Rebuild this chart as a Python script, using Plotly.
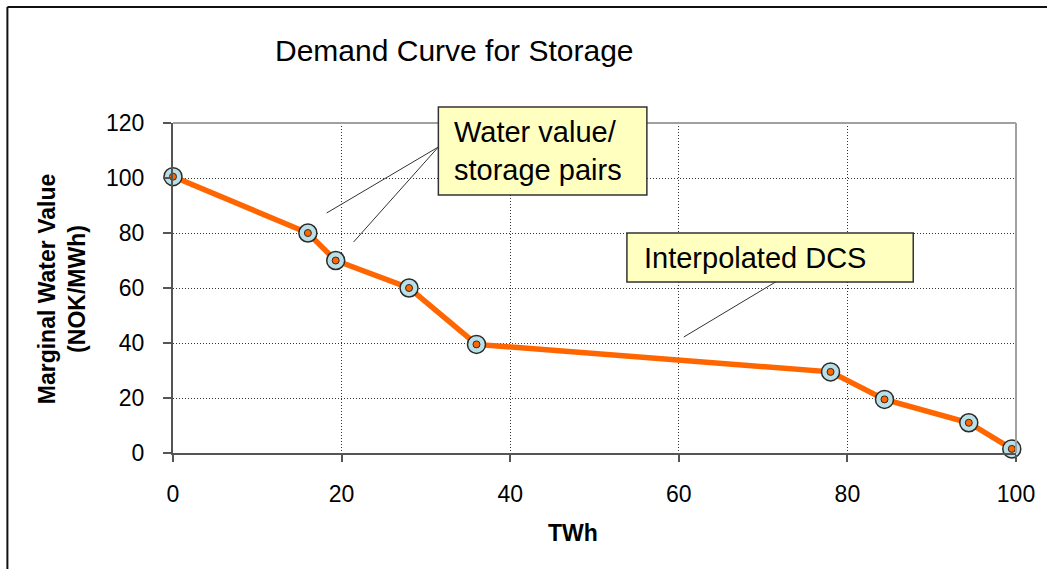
import plotly.graph_objects as go

# Demand curve for storage: water value / storage pairs
twh = [0, 16, 19.3, 28, 36, 78, 84.4, 94.4, 99.5]
water_value = [100.5, 80, 70, 60, 39.5, 29.5, 19.5, 11, 1.5]
x_ticks = [0, 20, 40, 60, 80, 100]
y_ticks = [0, 20, 40, 60, 80, 100, 120]

W, H = 1047, 569
L, R, T, B = 173, 1018, 123, 453  # plot area edges in page pixels

FONT = "Liberation Sans, Arial, sans-serif"


def px(x):
    return (x - L) / (R - L)


def py(y):
    return (B - y) / (B - T)


fig = go.Figure()

fig.add_trace(go.Scatter(
    x=twh, y=water_value, mode="lines",
    line=dict(color="#FF6600", width=5.5),
    cliponaxis=False, hoverinfo="skip", showlegend=False,
))
fig.add_trace(go.Scatter(
    x=twh, y=water_value, mode="markers",
    marker=dict(symbol="circle", size=18, color="#B9E0E6",
                line=dict(color="#2b2b2b", width=1.5)),
    cliponaxis=False, showlegend=False,
))
fig.add_trace(go.Scatter(
    x=twh, y=water_value, mode="markers",
    marker=dict(symbol="circle", size=7, color="#FF6600",
                line=dict(color="#2b2b2b", width=1)),
    cliponaxis=False, hoverinfo="skip", showlegend=False,
))

axis_common = dict(
    showgrid=True, gridcolor="#333333", gridwidth=1, griddash="1px,2px",
    showline=True, linecolor="#555555", linewidth=2,
    ticks="outside", tickcolor="#555555", tickwidth=1.5,
    tickfont=dict(family=FONT, size=23, color="black"),
    zeroline=False, fixedrange=True,
)

fig.update_xaxes(range=[0, 100], tickvals=x_ticks, ticklen=7,
                 ticklabelstandoff=12, **axis_common)
fig.update_yaxes(range=[0, 120], tickvals=y_ticks, ticklen=8,
                 ticklabelstandoff=14, **axis_common)

shapes = [
    # light grey top and right plot borders
    dict(type="line", xref="paper", yref="paper", x0=0, y0=1, x1=1, y1=1,
         line=dict(color="#A0A0A0", width=2)),
    dict(type="line", xref="paper", yref="paper", x0=1, y0=0, x1=1, y1=1,
         line=dict(color="#A0A0A0", width=2)),
    # outer frame (top and left)
    dict(type="line", xref="paper", yref="paper", x0=px(7), y0=py(7), x1=px(W + 5), y1=py(7),
         line=dict(color="#111111", width=2)),
    dict(type="line", xref="paper", yref="paper", x0=px(7), y0=py(7), x1=px(7), y1=py(H + 5),
         line=dict(color="#111111", width=2)),
    # callout boxes
    dict(type="rect", xref="paper", yref="paper", x0=px(439), y0=py(195), x1=px(648), y1=py(107),
         fillcolor="#FFFFC0", line=dict(color="#333333", width=1.5)),
    dict(type="rect", xref="paper", yref="paper", x0=px(628), y0=py(282), x1=px(915), y1=py(233),
         fillcolor="#FFFFC0", line=dict(color="#333333", width=1.5)),
    # leader lines
    dict(type="line", xref="paper", yref="paper", x0=px(439), y0=py(147), x1=px(327), y1=py(213),
         line=dict(color="#333333", width=1)),
    dict(type="line", xref="paper", yref="paper", x0=px(439), y0=py(147), x1=px(354), y1=py(242),
         line=dict(color="#333333", width=1)),
    dict(type="line", xref="paper", yref="paper", x0=px(777), y0=py(282), x1=px(685), y1=py(337),
         line=dict(color="#333333", width=1)),
]

annotations = [
    dict(text="Demand Curve for Storage", x=px(455), y=py(50), xref="paper", yref="paper",
         xanchor="center", yanchor="middle", showarrow=False,
         font=dict(family=FONT, size=30, color="black")),
    dict(text="Water value/<br>storage pairs", x=px(453), y=py(151), xref="paper", yref="paper",
         xanchor="left", yanchor="middle", align="left", showarrow=False,
         font=dict(family=FONT, size=29, color="black")),
    dict(text="Interpolated DCS", x=px(643), y=py(258), xref="paper", yref="paper",
         xanchor="left", yanchor="middle", align="left", showarrow=False,
         font=dict(family=FONT, size=29, color="black")),
    dict(text="Marginal Water Value<br>(NOK/MWh)", x=px(62), y=py(289), xref="paper", yref="paper",
         xanchor="center", yanchor="middle", textangle=-90, showarrow=False,
         font=dict(family=FONT, size=23, color="black", weight="bold")),
    dict(text="TWh", x=px(574), y=py(533), xref="paper", yref="paper",
         xanchor="center", yanchor="middle", showarrow=False,
         font=dict(family=FONT, size=23, color="black", weight="bold")),
]

fig.update_layout(
    width=W, height=H, autosize=False,
    margin=dict(l=L, r=W - R, t=T, b=H - B),
    paper_bgcolor="white", plot_bgcolor="white",
    shapes=shapes, annotations=annotations,
    showlegend=False,
)

fig.write_html("out.html", config={"displayModeBar": False})
